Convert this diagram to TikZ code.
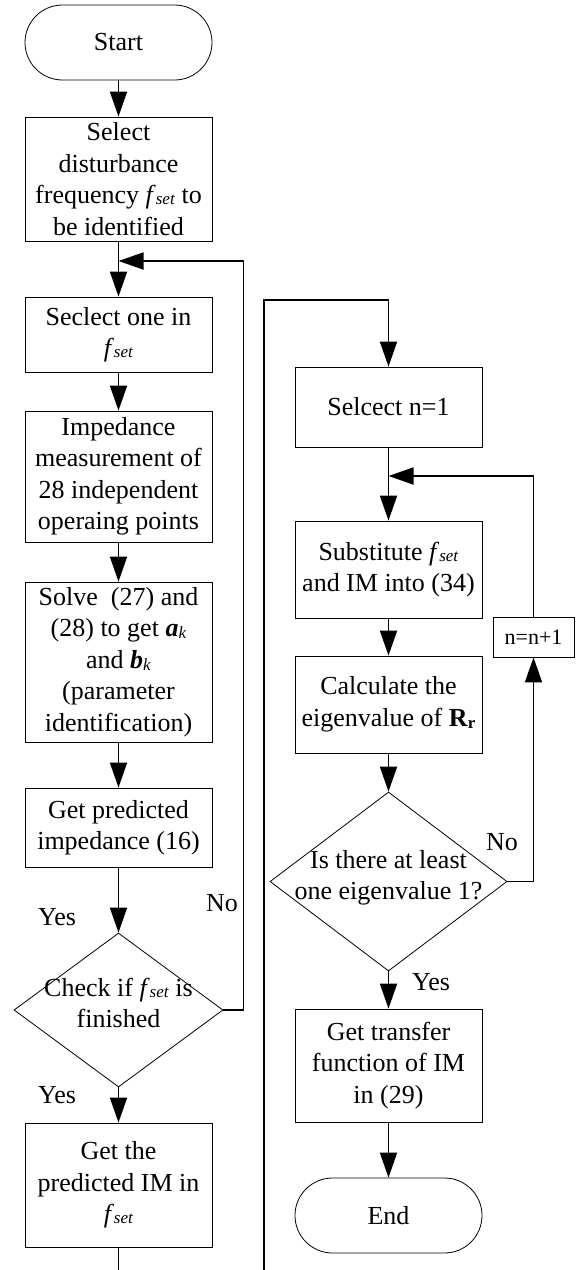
\documentclass[tikz,border=0pt]{standalone}
\usepackage{fontspec}
\setmainfont{Liberation Serif}
\usetikzlibrary{arrows.meta,shapes.geometric}
\newcommand{\fset}{\textit{f}\raisebox{-1pt}{\fontsize{17}{17}\selectfont\textit{set}}}
\newcommand{\subsm}[1]{\raisebox{-2pt}{\fontsize{17}{17}\selectfont #1}}
\begin{document}
\begin{tikzpicture}[x=1pt,y=-1pt,
  every node/.style={font=\fontsize{26}{31.5}\selectfont},
  box/.style={draw,line width=0.8pt,align=center,inner sep=0pt,minimum width=187pt},
  term/.style={draw,line width=0.8pt,rounded corners=37.5pt,inner sep=0pt,minimum width=187pt,minimum height=75pt},
  dia/.style={draw,diamond,line width=0.8pt,inner sep=0pt},
  txt/.style={align=center,inner sep=0pt},
  conn/.style={line width=1.8pt,-{Triangle[length=25pt,width=17pt]}},
  plain/.style={line width=1.8pt},
  lbl/.style={inner sep=0pt}]
\useasboundingbox (0,0) rectangle (578,1270);
% left column
\node[term] (start) at (118.5,42.5) {Start};
\node[box,minimum height=124pt] (b1) at (118.5,179) {Select\\disturbance\\frequency \fset\ to\\be identified};
\node[box,minimum height=75pt] (b2) at (118.5,334.5) {Seclect one in\\\fset};
\node[box,minimum height=131pt] (b3) at (118.5,476.5) {Impedance\\measurement of\\28 independent\\operaing points};
\node[box,minimum height=160pt] (b4) at (118.5,662) {Solve\ \ (27) and\\(28) to get \textbf{\textit{a}}\subsm{\textit{k}}\\and \textbf{\textit{b}}\subsm{\textit{k}}\\(parameter\\identification)};
\node[box,minimum height=79pt] (b5) at (118.5,827.5) {Get predicted\\impedance (16)};
\node[dia,minimum width=209pt,minimum height=154pt] (d1) at (118.5,1010) {};
\node[txt] (d1t) at (118.5,1003) {Check if \fset\ is\\finished};
\node[box,minimum height=124pt] (b6) at (118.5,1185) {Get the\\predicted IM in\\\fset};
\coordinate (j1) at (118.5,261);
\coordinate (bl) at (118.5,1270);
% right column
\node[box,minimum height=80pt] (r1) at (388.5,407) {Selcect n=1};
\node[box,minimum height=97pt] (r2) at (388.5,569.5) {Substitute \fset\\and IM into (34)};
\node[box,minimum height=97pt] (r3) at (388.5,704.5) {Calculate the\\eigenvalue of \textbf{R}\subsm{\textbf{r}}};
\node[dia,minimum width=237pt,minimum height=179pt] (d2) at (388.5,881.5) {};
\node[txt] (d2t) at (388.5,878) {Is there at least\\one eigenvalue 1?};
\node[box,minimum height=113pt] (r4) at (388.5,1065.5) {Get transfer\\function of IM\\in (29)};
\node[term] (end) at (388.5,1215.5) {End};
\node[box,minimum width=81pt,minimum height=40pt,font=\fontsize{22}{26}\selectfont] (nn) at (533.5,637) {n=n+1};
\coordinate (j2) at (388.5,476);
\coordinate (br) at (264,1270);
\coordinate (top) at (264,300);
% labels
\node[lbl] (y1) at (57,917) {Yes};
\node[lbl] (n1) at (222,903) {No};
\node[lbl] (y2) at (57,1095) {Yes};
\node[lbl] (n2) at (502,842) {No};
\node[lbl] (y3) at (431,982) {Yes};
% connectors left
\draw[conn] (start) -- (b1);
\draw[conn] (b1) -- (b2);
\draw[conn] (b2) -- (b3);
\draw[conn] (b3) -- (b4);
\draw[conn] (b4) -- (b5);
\draw[conn] (b5) -- (d1.north);
\draw[conn] (d1.south) -- (b6);
\draw[plain] (b6) -- (bl);
\draw[conn] (d1.east) -- ++(20,0) |- (j1);
% connectors right
\draw[conn] (br) -- (top) -| (r1.north);
\draw[conn] (r1) -- (r2);
\draw[conn] (r2) -- (r3);
\draw[conn] (r3) -- (d2.north);
\draw[conn] (d2.south) -- (r4);
\draw[conn] (r4) -- (end);
\draw[conn] (d2.east) -| (nn.south);
\draw[conn] (nn.north) |- (j2);
\end{tikzpicture}
\end{document}
